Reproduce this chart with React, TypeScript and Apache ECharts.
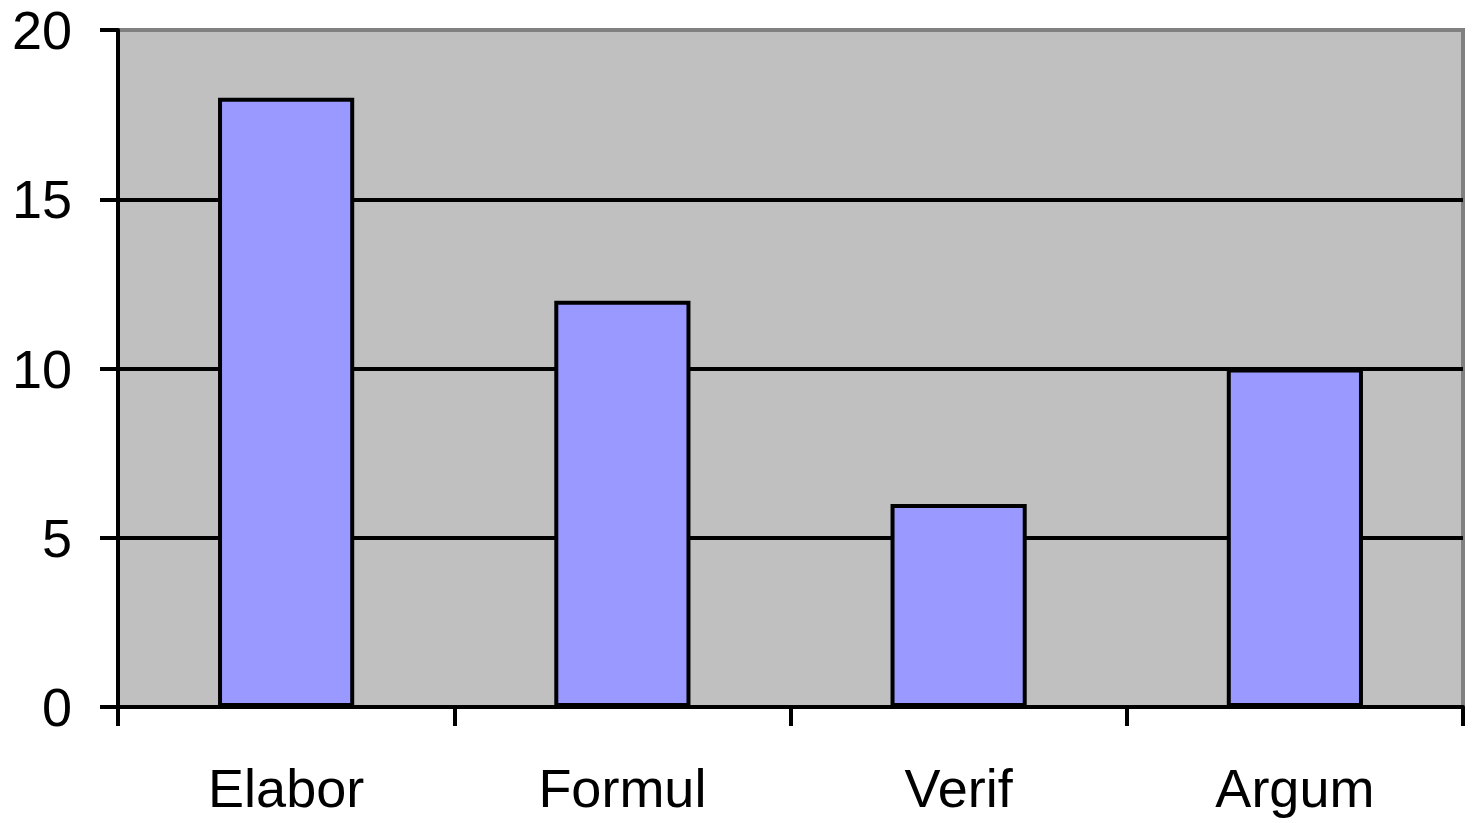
import React, { useEffect, useRef } from "react";
import * as echarts from "echarts";

const categories = ["Elabor", "Formul", "Verif", "Argum"];
const values = [18, 12, 6, 10];
const yMin = 0;
const yMax = 20;
const yInterval = 5;

export default function App() {
  const ref = useRef<HTMLDivElement>(null);
  useEffect(() => {
    if (!ref.current) return;
    const chart = echarts.init(ref.current, null, { renderer: "svg" });
    const font = "'Liberation Sans', Arial, sans-serif";
    chart.setOption({
      animation: false,
      backgroundColor: "#ffffff",
      grid: {
        left: 118,
        top: 30,
        right: 9,
        bottom: 116,
        show: true,
        backgroundColor: "#c0c0c0",
        borderColor: "#808080",
        borderWidth: 4,
      },
      xAxis: {
        type: "category",
        data: categories,
        boundaryGap: true,
        axisLine: { show: true, lineStyle: { color: "#000", width: 4 } },
        axisTick: { show: true, alignWithLabel: false, length: 19, lineStyle: { color: "#000", width: 4 } },
        axisLabel: { color: "#000", fontSize: 54, fontFamily: font, margin: 54 },
        splitLine: { show: false },
      },
      yAxis: {
        type: "value",
        min: yMin,
        max: yMax,
        interval: yInterval,
        axisLine: { show: true, lineStyle: { color: "#000", width: 4 } },
        axisTick: { show: true, length: 18, lineStyle: { color: "#000", width: 4 } },
        axisLabel: { color: "#000", fontSize: 54, fontFamily: font, margin: 46 },
        splitLine: { show: true, showMaxLine: false, lineStyle: { color: "#000", width: 4 } },
      },
      series: [
        {
          type: "bar",
          data: values,
          barWidth: "40.5%",
          itemStyle: { color: "#9999ff", borderColor: "#000", borderWidth: 4 },
        },
      ],
    });
    return () => chart.dispose();
  }, []);
  return (
    <div
      ref={ref}
      style={{ position: "fixed", left: 0, top: 0, width: 1472, height: 823 }}
    />
  );
}
